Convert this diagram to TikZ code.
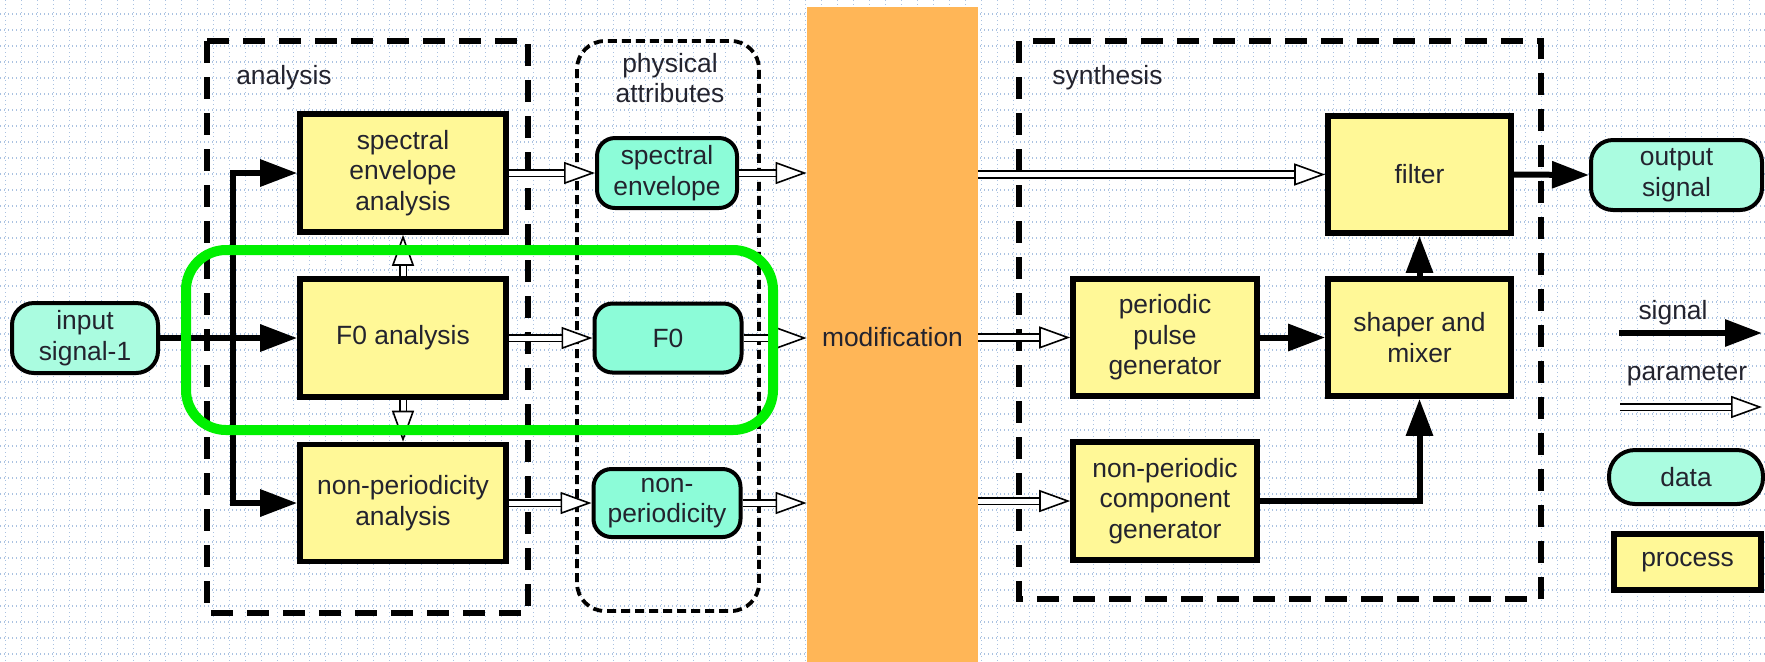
\documentclass[tikz,border=0pt]{standalone}
\usepackage{fontspec}
\setmainfont{Liberation Sans}
\usetikzlibrary{arrows.meta,calc}

\definecolor{gridblue}{HTML}{AAC2E1}
\definecolor{procfill}{HTML}{FFF897}
\definecolor{datafill}{HTML}{8CFCD8}
\definecolor{datalight}{HTML}{AAFCE0}
\definecolor{modorange}{HTML}{FFB657}
\definecolor{hlgreen}{HTML}{00F000}
\definecolor{inkcol}{HTML}{23232E}

\begin{document}
\begin{tikzpicture}[x=0.5pt,y=-0.5pt,
  every node/.style={font=\fontsize{13.2}{15.3}\selectfont, text=inkcol, align=center, inner sep=0pt},
  gridline/.style={gridblue, line width=0.7pt, dash pattern=on 0.7pt off 1.3pt},
  proc/.style={draw=black, line width=2.8pt, fill=procfill},
  datanode/.style={draw=black, line width=2pt, rounded corners=9pt, fill=datafill},
  datalt/.style={datanode, fill=datalight},
  groupbox/.style={draw=black, line width=2.6pt, dash pattern=on 11pt off 7pt},
  attrbox/.style={draw=black, line width=1.9pt, dash pattern=on 4.5pt off 2.5pt, rounded corners=14pt},
  sig/.style={draw=black, line width=3pt, -{Triangle[length=18.5pt,width=13pt]}},
  param/.style={draw=black, double=white, double distance=2.5pt, line width=0.8pt,
    -{Triangle[open, fill=white, length=15.5pt, width=11pt, line width=0.8pt]}},
  highlight/.style={draw=hlgreen, line width=5pt, rounded corners=20pt}
]
\useasboundingbox (0,0) rectangle (1765,661);

% dotted background grid
\foreach \i in {0,...,110} \draw[gridline] (5.7+16*\i,0) -- (5.7+16*\i,661);
\foreach \j in {0,...,40} \draw[gridline] (0,14+16*\j) -- (1765,14+16*\j);

% modification band
\node[fill=modorange, minimum width=85.5pt, minimum height=330pt] (mod) at (892.5,337) {modification};

% group frames
\draw[groupbox] (207,41) rectangle (528,613);
\draw[groupbox] (1019,41) rectangle (1541,599);
\draw[attrbox] (577,41) rectangle (759,611);
\node (lanalysis) at (284,78) {analysis};
\node (lsynthesis) at (1107.5,78) {synthesis};
\node (lattr) at (670,78) {physical\\attributes};

% analysis processes
\node[proc, minimum width=103pt, minimum height=59pt] (spa) at (403,173) {spectral\\envelope\\analysis};
\node[proc, minimum width=103pt, minimum height=59pt] (f0a) at (403,338) {F0 analysis};
\node[proc, minimum width=103pt, minimum height=58.5pt] (npa) at (403,503) {non-periodicity\\analysis};

% input
\node[datalt, rounded corners=11pt, minimum width=73pt, minimum height=35pt] (in) at (85,338) {input\\signal-1};

% physical attributes
\node[datanode, minimum width=70pt, minimum height=35pt] (sed) at (667,173) {spectral\\envelope};
\node[datanode, minimum width=73.5pt, minimum height=34.5pt] (f0d) at (668,338) {F0};
\node[datanode, minimum width=73.5pt, minimum height=34pt] (npd) at (667,503) {non-\\periodicity};

% synthesis processes
\node[proc, minimum width=91.5pt, minimum height=58.5pt] (filter) at (1419.5,174.5) {filter};
\node[proc, minimum width=91.5pt, minimum height=58.5pt] (shaper) at (1419.5,337.5) {shaper and\\mixer};
\node[proc, minimum width=92pt, minimum height=58.5pt] (ppg) at (1165,337.5) {periodic\\pulse\\generator};
\node[proc, minimum width=92pt, minimum height=59pt] (npg) at (1165,501) {non-periodic\\component\\generator};

% output
\node[datalt, rounded corners=11pt, minimum width=85.5pt, minimum height=35pt] (out) at (1676.5,175) {output\\signal};

% legend
\coordinate (sigA) at (1619,333);
\coordinate (sigB) at (1762,333);
\coordinate (parA) at (1620,407);
\coordinate (parB) at (1762,407);
\node (lsig) at (1673,313) {signal};
\node (lpar) at (1687,375) {parameter};
\node[datalt, rounded corners=13pt, minimum width=77pt, minimum height=27pt] (ldata) at (1686,477) {data};
\node[proc, minimum width=73.5pt, minimum height=28pt] (lproc) at (1687.5,562) {process};
\draw[sig] (sigA) -- (sigB);
\draw[param] (parA) -- (parB);

% signal paths in the analysis stage
\coordinate (bus) at (233,0);
\draw[sig] (in.east) -- (f0a.west);
\draw[sig] (bus |- f0a.west) -- (bus |- spa.west) -- (spa.west);
\draw[sig] (bus |- f0a.west) -- (bus |- npa.west) -- (npa.west);

% parameters from analysis
\draw[param] (spa.east) -- (sed.west);
\draw[param] (f0a.east) -- (f0d.west);
\draw[param] (npa.east) -- (npd.west);
\draw[param] (f0a.north) -- (spa.south);
\draw[param] (f0a.south) -- (npa.north);

% into and out of the modification stage
\draw[param] (sed.east) -- (sed.east -| mod.west);
\draw[param] (f0d.east) -- (f0d.east -| mod.west);
\draw[param] (npd.east) -- (npd.east -| mod.west);
\draw[param] (mod.east |- filter.west) -- (filter.west);
\draw[param] (mod.east |- ppg.west) -- (ppg.west);
\draw[param] (mod.east |- npg.west) -- (npg.west);

% signal paths in the synthesis stage
\draw[sig] (ppg.east) -- (shaper.west);
\draw[sig] (npg.east) -| (shaper.south);
\draw[sig] (shaper.north) -- (filter.south);
\draw[sig] (filter.east) -- (out.west);

% F0 highlight
\draw[highlight] (186,250) rectangle (773,430);
\end{tikzpicture}
\end{document}
